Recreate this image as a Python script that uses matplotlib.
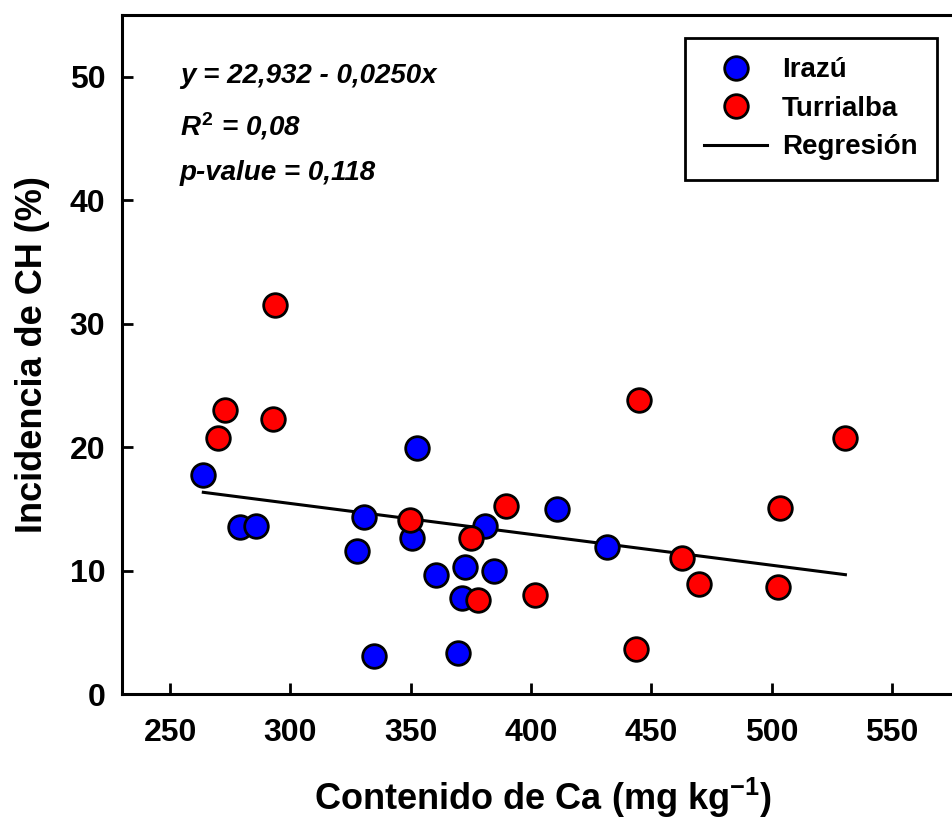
import matplotlib
matplotlib.use("Agg")
import matplotlib.pyplot as plt
from matplotlib.lines import Line2D
import numpy as np

# Data
irazu_ca = [263.8, 279.0, 285.8, 327.8, 330.8, 334.8, 350.6, 352.8,
            360.7, 369.7, 371.4, 372.6, 380.8, 384.8, 410.9, 431.7]
irazu_ch = [17.7, 13.5, 13.6, 11.6, 14.3, 3.1, 12.6, 19.9,
            9.6, 3.3, 7.8, 10.3, 13.6, 10.0, 15.0, 11.9]
turri_ca = [269.8, 272.7, 292.7, 293.8, 349.8, 374.9, 377.8, 389.7,
            401.7, 443.8, 444.8, 462.6, 469.7, 502.7, 503.7, 530.7]
turri_ch = [20.7, 23.0, 22.3, 31.5, 14.1, 12.6, 7.65, 15.2,
            8.0, 3.65, 23.8, 11.0, 8.9, 8.7, 15.1, 20.7]
intercept = 22.932
slope = -0.0250
xticks = [250, 300, 350, 400, 450, 500, 550]
yticks = [0, 10, 20, 30, 40, 50]

plt.rcParams['font.family'] = ['Liberation Sans', 'DejaVu Sans']
plt.rcParams['font.weight'] = 'bold'
plt.rcParams['mathtext.fontset'] = 'custom'
plt.rcParams['mathtext.rm'] = 'Liberation Sans:bold'
plt.rcParams['mathtext.it'] = 'Liberation Sans:italic:bold'
plt.rcParams['mathtext.bf'] = 'Liberation Sans:bold'

W, H = 952, 825
fig = plt.figure(figsize=(W / 100, H / 100), dpi=100)
left_px, right_px, top_px, bottom_px = 122, 964, 15, 694
ax = fig.add_axes([left_px / W, 1 - bottom_px / H,
                   (right_px - left_px) / W, (bottom_px - top_px) / H])

allx = np.array(irazu_ca + turri_ca)
xr = np.array([allx.min(), allx.max()])
ax.plot(xr, intercept + slope * xr, color='black', lw=2.2, zorder=2)

ms = 17
ax.plot(irazu_ca, irazu_ch, 'o', ms=ms, mfc='#0000FF', mec='black', mew=2.0,
        zorder=3, ls='none')
ax.plot(turri_ca, turri_ch, 'o', ms=ms, mfc='#FF0000', mec='black', mew=2.0,
        zorder=3, ls='none')

ax.set_xlim(230, 580)
ax.set_ylim(0, 55)
ax.set_xticks(xticks)
ax.set_yticks(yticks)
ax.tick_params(direction='in', length=8, width=2, labelsize=23)
ax.tick_params(axis='x', pad=17)
ax.tick_params(axis='y', pad=12)
for lab in ax.get_xticklabels() + ax.get_yticklabels():
    lab.set_fontweight('bold')
for s in ax.spines.values():
    s.set_linewidth(2.2)

ax.set_xlabel('Contenido de Ca (mg kg$^{-1}$)', fontsize=26, fontweight='bold',
              labelpad=20)
ax.set_ylabel('Incidencia de CH (%)', fontsize=26, fontweight='bold',
              labelpad=14)

tx = 180 / W
fs_ann = 20
fig.text(tx, 1 - 83 / H, 'y = 22,932 - 0,0250x', fontsize=fs_ann,
         fontweight='bold', style='italic', va='baseline')
fig.text(tx, 1 - 135 / H, '$R^{2}$ = 0,08', fontsize=fs_ann,
         fontweight='bold', style='italic', va='baseline')
fig.text(tx, 1 - 180 / H, 'p-value = 0,118', fontsize=fs_ann,
         fontweight='bold', style='italic', va='baseline')

handles = [
    Line2D([], [], marker='o', ls='none', ms=ms, mfc='#0000FF', mec='black', mew=2.0),
    Line2D([], [], marker='o', ls='none', ms=ms, mfc='#FF0000', mec='black', mew=2.0),
    Line2D([], [], color='black', lw=2.2),
]
leg = fig.legend(handles, ['Irazú', 'Turrialba', 'Regresión'],
                 loc='upper left', bbox_to_anchor=(685 / W, 1 - 38 / H),
                 bbox_transform=fig.transFigure,
                 fancybox=False, edgecolor='black', framealpha=1,
                 prop={'size': 20, 'weight': 'bold'}, handlelength=2.25,
                 handletextpad=0.55, labelspacing=0.45, borderpad=0.7,
                 borderaxespad=0)
leg.get_frame().set_linewidth(2.0)

fig.savefig('out.png', dpi=100)
